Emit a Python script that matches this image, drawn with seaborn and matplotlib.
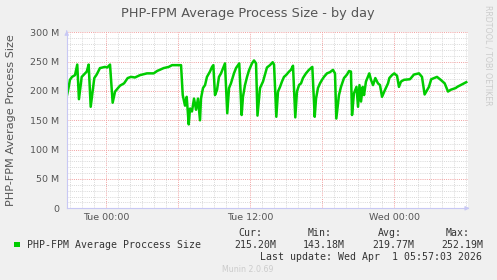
import numpy as np
import pandas as pd
import matplotlib.pyplot as plt
import seaborn as sns
from matplotlib.patches import Rectangle

# hours relative to Tue 00:00, values in MB
hours = [-3.30, -3.15, -3.03, -2.86, -2.61, -2.42, -2.28, -2.05, -1.86, -1.63,
         -1.47, -1.30, -1.00, -0.80, -0.53, -0.11, 0.08, 0.31, 0.53, 0.73,
         1.14, 1.48, 1.78, 2.06, 2.39, 2.81, 3.39, 3.95, 4.23, 4.78,
         5.20, 5.48, 5.98, 6.23, 6.37, 6.56, 6.70, 6.87, 6.98, 7.14,
         7.31, 7.48, 7.64, 7.81, 7.89, 8.06, 8.23, 8.39, 8.64, 8.81,
         8.92, 9.06, 9.23, 9.39, 9.56, 9.73, 9.89, 10.08, 10.23, 10.39,
         10.64, 10.81, 11.08, 11.28, 11.39, 11.56, 11.73, 11.89, 12.14, 12.31,
         12.48, 12.60, 12.81, 13.06, 13.39, 13.64, 13.87, 13.98, 14.17, 14.31,
         14.48, 14.64, 14.81, 14.98, 15.23, 15.39, 15.56, 15.75, 15.89, 16.06,
         16.23, 16.39, 16.64, 16.89, 17.17, 17.37, 17.48, 17.64, 17.81, 17.98,
         18.14, 18.39, 18.64, 18.89, 19.06, 19.17, 19.39, 19.56, 19.81, 20.06,
         20.23, 20.39, 20.48, 20.64, 20.85, 20.98, 21.10, 21.23, 21.37, 21.48,
         21.64, 21.92, 22.06, 22.23, 22.42, 22.64, 22.81, 22.98, 23.23, 23.48,
         23.59, 23.81, 24.00, 24.23, 24.39, 24.56, 24.81, 25.31, 25.64, 26.06,
         26.31, 26.53, 26.89, 27.08, 27.56, 27.87, 28.20, 28.48, 28.70, 29.12,
         29.25, 29.81, 30.00]
size_mb = [190, 205, 219, 224, 227, 245, 186, 224, 228, 233,
           245, 173, 222, 228, 239, 241, 240, 245, 180, 199,
           209, 213, 222, 224, 223, 227, 230, 230, 234, 239,
           241, 244, 244, 244, 193, 175, 190, 143, 170, 165,
           187, 168, 187, 150, 187, 205, 210, 224, 233, 241,
           244, 193, 202, 224, 230, 239, 247, 162, 205, 213,
           230, 239, 247, 159, 190, 210, 224, 235, 247, 252,
           247, 158, 205, 216, 240, 244, 249, 245, 156, 199,
           207, 216, 224, 227, 233, 236, 243, 155, 199, 210,
           213, 222, 230, 236, 241, 156, 187, 205, 213, 219,
           224, 230, 232, 236, 230, 153, 193, 207, 222, 228,
           234, 233, 159, 196, 207, 173, 210, 182, 207, 193,
           216, 230, 219, 210, 222, 213, 210, 190, 202, 213,
           222, 227, 230, 226, 207, 216, 219, 220, 228, 230,
           224, 194, 207, 220, 224, 219, 213, 199, 202, 205,
           207, 213, 215]

x_ticks = [0, 6, 12, 18, 24]
x_labels = ["Tue 00:00", "", "Tue 12:00", "", "Wed 00:00"]
y_ticks = [0, 50, 100, 150, 200, 250, 300]
y_labels = ["0", "50 M", "100 M", "150 M", "200 M", "250 M", "300 M"]

series_name = "PHP-FPM Average Proccess Size"
stat_names = ["Cur:", "Min:", "Avg:", "Max:"]
stat_values = ["215.20M", "143.18M", "219.77M", "252.19M"]

df = pd.DataFrame({"hour": hours, "size": size_mb})

W, H = 497, 280
fig = plt.figure(figsize=(W / 100, H / 100), dpi=100, facecolor="#f0f0f0")
ax = fig.add_axes([66.7 / W, 1 - 208.3 / H, 401.6 / W, 176 / H])
ax.set_facecolor("white")

def fx(px):
    return px / W

def fy(py):
    return 1 - py / H

# grid
ax.set_xlim(-3.3, 30.17)
ax.set_ylim(0, 300)
ax.set_xticks(x_ticks)
ax.set_xticklabels(x_labels)
ax.set_xticks(np.arange(-3, 31, 1), minor=True)
ax.set_yticks(y_ticks)
ax.set_yticklabels(y_labels)
ax.set_yticks(np.arange(0, 301, 10), minor=True)
ax.grid(which="minor", color="#d8d8d8", linestyle=(0, (1, 1.2)), linewidth=0.7)
ax.grid(which="major", color="#f2a0a0", linestyle=(0, (1, 1.2)), linewidth=0.7)
ax.set_axisbelow(True)

sns.lineplot(data=df, x="hour", y="size", color="#00cc00", linewidth=1.8, ax=ax)

ax.set_xlabel("")
ax.set_ylabel("PHP-FPM Average Process Size", fontsize=8.1, color="#555555", labelpad=10)
ax.tick_params(which="both", length=0)
ax.tick_params(axis="y", pad=5.3, labelsize=6.8, labelcolor="#555555")
ax.tick_params(axis="x", pad=3.5, labelsize=6.8, labelcolor="#555555")

for s in ["top", "right"]:
    ax.spines[s].set_visible(False)
lav = "#c8c8f4"
for s in ["left", "bottom"]:
    ax.spines[s].set_color(lav)
    ax.spines[s].set_linewidth(0.8)
ax.annotate("", xy=(0, 1.025), xytext=(0, 0.99), xycoords="axes fraction",
            arrowprops=dict(arrowstyle="-|>", color=lav, lw=0.8, mutation_scale=6))
ax.annotate("", xy=(1.01, 0), xytext=(0.99, 0), xycoords="axes fraction",
            arrowprops=dict(arrowstyle="-|>", color=lav, lw=0.8, mutation_scale=6))

fig.text(fx(248), fy(14), "PHP-FPM Average Process Size - by day", ha="center", va="center",
         fontsize=9.3, color="#555555")
fig.text(fx(488), fy(5), "RRDTOOL / TOBI OETIKER", ha="center", va="top", rotation=270,
         fontsize=5.7, color="#cccccc")

mono = "DejaVu Sans Mono"
fig.patches.append(Rectangle((fx(14), fy(247.3)), 5.5 / W, 5.5 / H, transform=fig.transFigure,
                             facecolor="#00cc00", edgecolor="none"))
fig.text(fx(26.7), fy(244.5), series_name, family=mono, fontsize=7.15, color="#333333", va="center")

name_right = [262, 332, 402, 470]
value_right = [276, 345, 414, 483]
for nm, v, xr, xv in zip(stat_names, stat_values, name_right, value_right):
    fig.text(fx(xr), fy(233), nm, family=mono, fontsize=7.15, color="#333333", ha="right", va="center")
    fig.text(fx(xv), fy(244.5), v, family=mono, fontsize=7.15, color="#333333", ha="right", va="center")
fig.text(fx(482.5), fy(257), "Last update: Wed Apr  1 05:57:03 2026", family=mono, fontsize=7.15,
         color="#333333", ha="right", va="center")
fig.text(fx(222.5), fy(269), "Munin 2.0.69", fontsize=5.7, color="#cccccc", va="center")

fig.savefig("out.png", dpi=100, facecolor=fig.get_facecolor())
